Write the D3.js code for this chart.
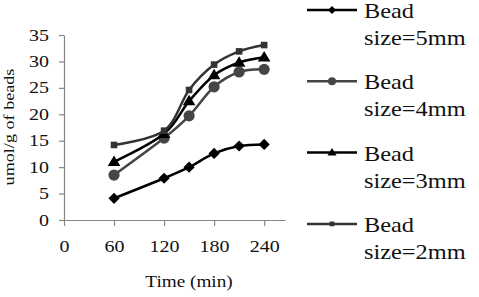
<!DOCTYPE html>
<html>
<head>
<meta charset="utf-8">
<script src="https://cdn.jsdelivr.net/npm/d3@7"></script>
<style>
  html, body { margin: 0; padding: 0; background: #fff; }
  svg { display: block; }
  text { font-family: "Liberation Serif", "Times New Roman", serif; fill: #111; }
</style>
</head>
<body>
<svg id="chart" width="479" height="297"></svg>
<script>
// ---- data ----
const times = [60, 120, 150, 180, 210, 240];
const bead5 = [4.1, 7.9, 10.0, 12.6, 14.0, 14.3];
const bead4 = [8.5, 15.5, 19.7, 25.2, 28.0, 28.5];
const bead3 = [11.0, 16.3, 22.5, 27.4, 29.8, 30.8];
const bead2 = [14.2, 16.9, 24.6, 29.4, 31.9, 33.1];
const legendLine1 = ["Bead", "Bead", "Bead", "Bead"];
const legendLine2 = ["size=5mm", "size=4mm", "size=3mm", "size=2mm"];
const xTicks = [0, 60, 120, 180, 240];
const yTicks = [0, 5, 10, 15, 20, 25, 30, 35];
const xTitle = "Time (min)";
const yTitle = "umol/g of beads";

const series = [
  { values: bead5, color: "#000000", marker: "diamond" },
  { values: bead4, color: "#454545", marker: "circle" },
  { values: bead3, color: "#000000", marker: "triangle" },
  { values: bead2, color: "#333333", marker: "square" }
];

const svg = d3.select("#chart");
const x = d3.scaleLinear().domain([0, 265]).range([64, 285]);
const y = d3.scaleLinear().domain([0, 35]).range([220, 35]);
const axisColor = "#868686";

function stretch(sel, f) {
  sel.each(function () {
    const len = this.getComputedTextLength();
    d3.select(this).attr("textLength", len * f).attr("lengthAdjust", "spacingAndGlyphs");
  });
}

// axes
const gx = svg.append("g").attr("transform", `translate(0,${y(0)})`)
  .call(d3.axisBottom(x).tickValues(xTicks).tickSize(6).tickSizeOuter(0).tickPadding(15).tickFormat(d3.format("d")));
const gy = svg.append("g").attr("transform", `translate(${x(0)},0)`)
  .call(d3.axisLeft(y).tickValues(yTicks).tickSize(5).tickSizeOuter(0).tickPadding(10).tickFormat(d3.format("d")));
[gx, gy].forEach(g => {
  g.select(".domain").attr("stroke", axisColor).attr("stroke-width", 1.2);
  g.selectAll(".tick line").attr("stroke", axisColor).attr("stroke-width", 1.2);
  g.selectAll(".tick text").attr("font-size", 16).attr("font-family", null).attr("fill", "#111");
  stretch(g.selectAll(".tick text"), 1.25);
});

// titles
const xt = svg.append("text").attr("x", 189).attr("y", 287).attr("text-anchor", "middle")
  .attr("font-size", 16).text(xTitle);
stretch(xt, 1.2);
const yt = svg.append("text").attr("transform", `translate(14,127) rotate(-90)`)
  .attr("text-anchor", "middle").attr("font-size", 15.5).text(yTitle);
stretch(yt, 1.17);

// markers
function drawMarker(g, type, cx, cy, color, scale) {
  const s = scale || 1;
  if (type === "diamond") {
    const r = 5.6 * s;
    g.append("path").attr("d", `M${cx},${cy - r}L${cx + r},${cy}L${cx},${cy + r}L${cx - r},${cy}Z`).attr("fill", color);
  } else if (type === "circle") {
    g.append("circle").attr("cx", cx).attr("cy", cy).attr("r", 5.6 * s).attr("fill", color);
  } else if (type === "triangle") {
    const w = 6.3 * s, h = 10.5 * s;
    g.append("path").attr("d", `M${cx},${cy - h * 0.6}L${cx + w},${cy + h * 0.4}L${cx - w},${cy + h * 0.4}Z`).attr("fill", color);
  } else {
    const r = 3.3 * s;
    g.append("rect").attr("x", cx - r).attr("y", cy - r).attr("width", 2 * r).attr("height", 2 * r).attr("fill", color);
  }
}

const line = d3.line().x((d, i) => x(times[i])).y(d => y(d)).curve(d3.curveCardinal.tension(0));
series.forEach(s => {
  const g = svg.append("g");
  g.append("path").attr("d", line(s.values)).attr("fill", "none")
    .attr("stroke", s.color).attr("stroke-width", 2.5);
  s.values.forEach((v, i) => drawMarker(g, s.marker, x(times[i]), y(v), s.color, 1));
});

// legend
series.forEach((s, i) => {
  const ly = 10 + i * 71.3;
  const g = svg.append("g");
  g.append("line").attr("x1", 307).attr("x2", 357).attr("y1", ly).attr("y2", ly)
    .attr("stroke", s.color).attr("stroke-width", 2.5);
  drawMarker(g, s.marker, 332, ly, s.color, 0.72);
  const t1 = g.append("text").attr("x", 364).attr("y", ly + 8).attr("font-size", 21).text(legendLine1[i]);
  const t2 = g.append("text").attr("x", 364).attr("y", ly + 35).attr("font-size", 21).text(legendLine2[i]);
  stretch(t1, 1.16);
  stretch(t2, 1.16);
});
</script>
</body>
</html>
